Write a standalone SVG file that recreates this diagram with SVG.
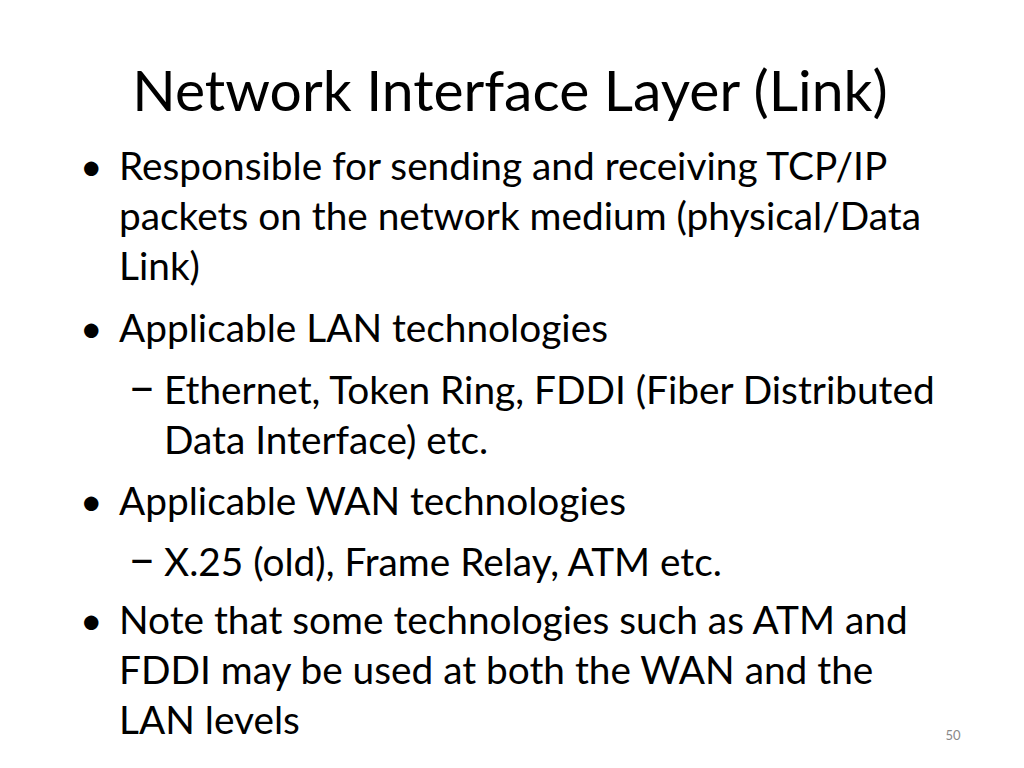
<svg xmlns="http://www.w3.org/2000/svg" width="1024" height="768" viewBox="0 0 1024 768">
<style>
text{font-family:Lato,"Open Sans",sans-serif;fill:#000}
.t{font-size:57px}
.b{font-size:38.8px}
.d{font-size:48px}
.n{font-size:13px;fill:#888}
</style>
<rect width="1024" height="768" fill="#fff"/>
<text class="t" x="510" y="111" text-anchor="middle">Network Interface Layer (Link)</text>
<g class="b">
<text x="80" y="180">•</text>
<text x="119" y="180">Responsible for sending and receiving TCP/IP</text>
<text x="119" y="230">packets on the network medium (physical/Data</text>
<text x="119" y="280">Link)</text>
<text x="80" y="342">•</text>
<text x="119" y="342">Applicable LAN technologies</text>
<text class="d" x="128" y="404">–</text>
<text x="164" y="404">Ethernet, Token Ring, FDDI (Fiber Distributed</text>
<text x="164" y="454">Data Interface) etc.</text>
<text x="80" y="515">•</text>
<text x="119" y="515">Applicable WAN technologies</text>
<text class="d" x="128" y="576">–</text>
<text x="164" y="576">X.25 (old), Frame Relay, ATM etc.</text>
<text x="80" y="634">•</text>
<text x="119" y="634">Note that some technologies such as ATM and</text>
<text x="119" y="684">FDDI may be used at both the WAN and the</text>
<text x="119" y="734">LAN levels</text>
</g>
<text class="n" x="953" y="740" text-anchor="middle">50</text>
</svg>
